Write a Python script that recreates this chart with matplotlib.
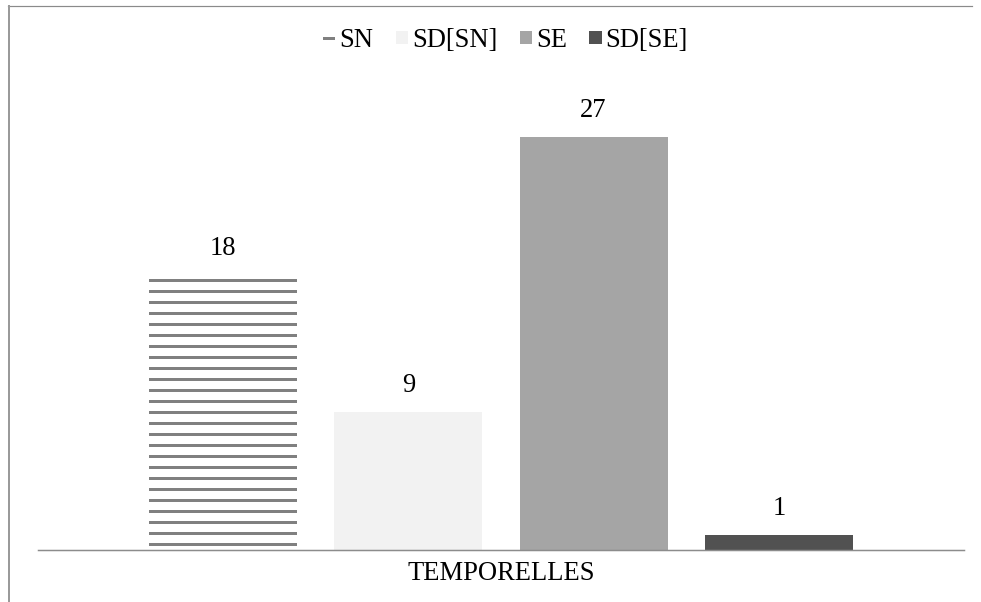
import matplotlib
matplotlib.use("Agg")
import matplotlib.pyplot as plt
from matplotlib.lines import Line2D

# ---- data ----
category = "TEMPORELLES"
series = ["SN", "SD[SN]", "SE", "SD[SE]"]
values = [18, 9, 27, 1]
colors = ["#ffffff", "#f2f2f2", "#a5a5a5", "#515151"]
hatches = ["-", None, None, None]
edgecolors = ["#808080", "#f2f2f2", "#a5a5a5", "#515151"]
offsets = [-1.5, -0.5, 0.5, 1.5]

DPI = 66
W, H = 981, 602
px = 72.0 / DPI  # points per pixel

plt.rcParams["font.family"] = ["Liberation Serif", "DejaVu Serif"]
plt.rcParams["hatch.linewidth"] = 3.0 * px
fs = 26.5 * px

fig = plt.figure(figsize=(W / DPI, H / DPI), dpi=DPI)
ax_left, ax_right, ax_bottom, ax_top = 38, 964, 550, 80
ax = fig.add_axes([ax_left / W, (H - ax_bottom) / H,
                   (ax_right - ax_left) / W, (ax_bottom - ax_top) / H])

handles = []
for name, v, c, h, ec, off in zip(series, values, colors, hatches, edgecolors, offsets):
    b = ax.bar(off, v, width=0.8, color=c, hatch=h, edgecolor=ec,
               linewidth=0, label=name)
    ax.bar_label(b, labels=[str(v)], padding=14 * px, fontsize=fs, color="#000000")
    handles.append(b)

ax.set_xlim(-2.5, 2.5)
ax.set_ylim(0, (ax_bottom - ax_top) / 15.3)
for s in ["top", "right", "left"]:
    ax.spines[s].set_visible(False)
ax.spines["bottom"].set_color("#8c8c8c")
ax.spines["bottom"].set_linewidth(1.5 * px)
ax.set_yticks([])
ax.set_xticks([0], [category], fontsize=fs)
ax.tick_params(axis="x", length=0, pad=11 * px)

fig.legend(handles=handles, labels=series, loc="center",
           bbox_to_anchor=(505.5 / W, 1 - 40.5 / H), ncol=4, frameon=False,
           fontsize=fs, handlelength=0.47, handleheight=0.4,
           handletextpad=0.14, columnspacing=0.85)

# partial outer frame
fig.add_artist(Line2D([8 / W, 972 / W], [1 - 5.5 / H, 1 - 5.5 / H],
                      transform=fig.transFigure, color="#8a8a8a", lw=1.2 * px))
fig.add_artist(Line2D([9 / W, 9 / W], [0, 1 - 5.5 / H],
                      transform=fig.transFigure, color="#9a9a9a", lw=2 * px))

fig.savefig("out.png", dpi=DPI, facecolor="white")
